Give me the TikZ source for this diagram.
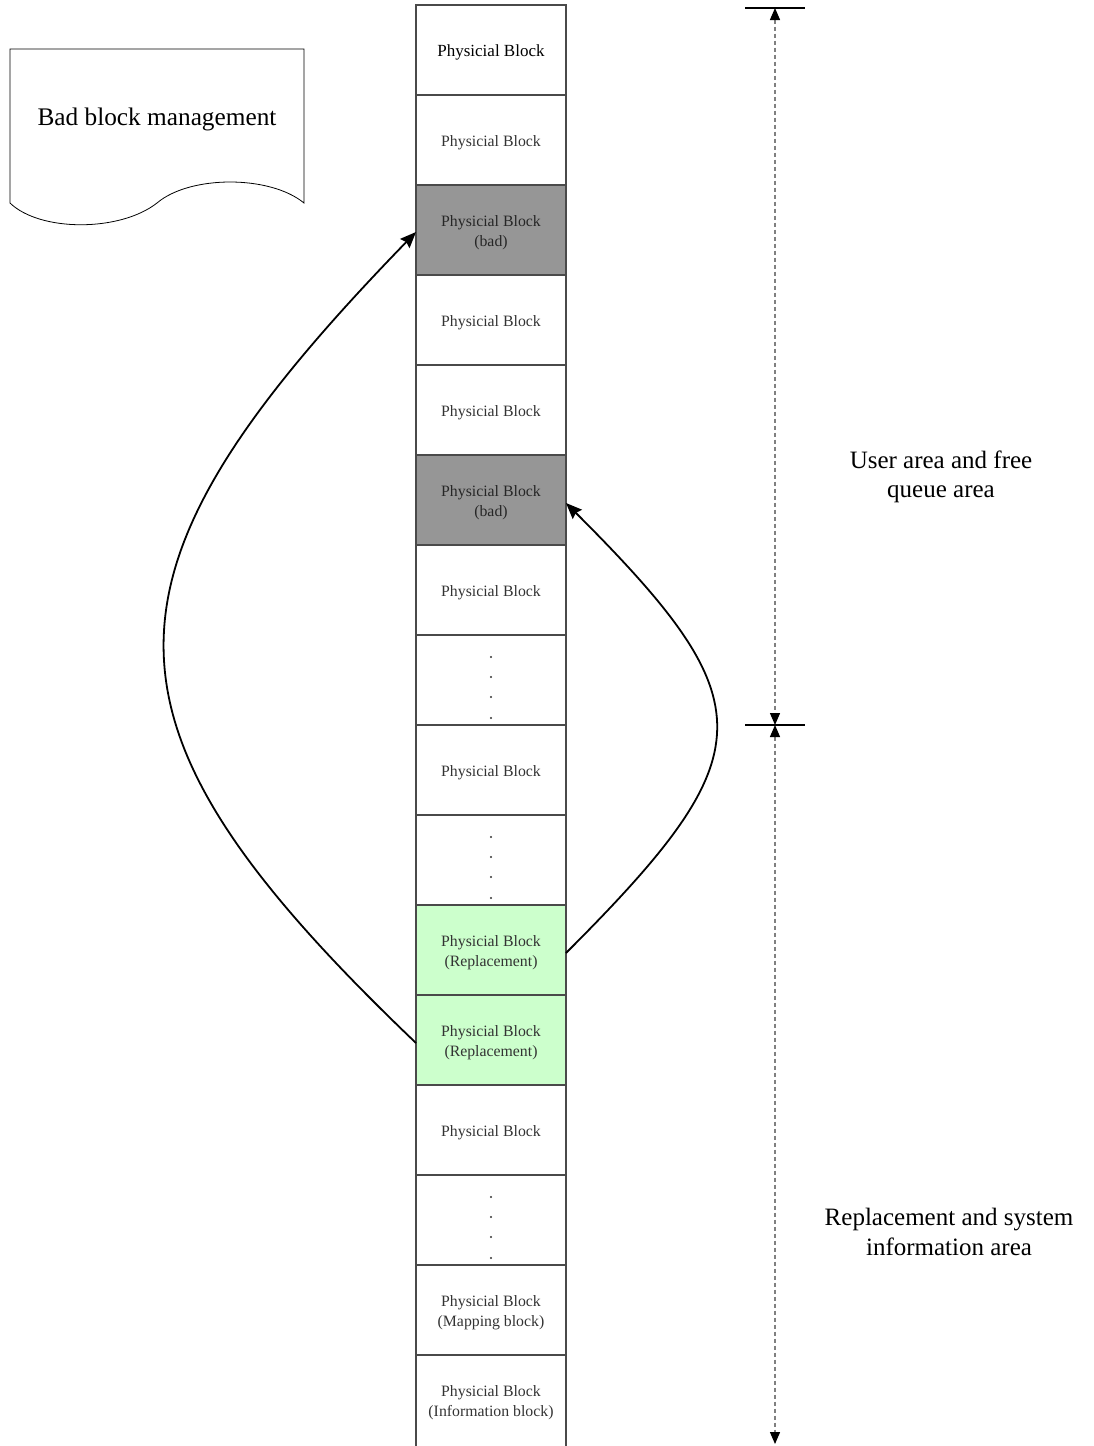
\documentclass[tikz,border=0pt]{standalone}
\usepackage{fontspec}
\setmainfont{Liberation Serif}
\usetikzlibrary{arrows.meta}
\definecolor{badgray}{HTML}{969696}
\definecolor{repgreen}{HTML}{CCFFCC}
\definecolor{edgegray}{HTML}{4A4A4A}
\definecolor{txtgray}{HTML}{333333}
\tikzset{
  blk/.style={draw=edgegray, line width=1.3pt, fill=white, minimum width=150pt, minimum height=90pt,
    inner sep=0pt, outer sep=0pt},
  badblk/.style={blk, fill=badgray},
  repblk/.style={blk, fill=repgreen},
  btxt/.style={align=center, text=txtgray, inner sep=0pt, font=\fontsize{15.8}{20}\selectfont},
  badtxt/.style={btxt, text=black!85},
  dotnode/.style={circle, fill=black!80, inner sep=0pt, minimum size=2.2pt},
  bigarrow/.style={line width=1.8pt, -{Stealth[length=16pt, width=13pt, inset=2pt]}},
  dim/.style={draw=gray, dash pattern=on 4pt off 3pt, line width=1.3pt,
    {Triangle[length=12pt, width=10pt, color=black]}-{Triangle[length=12pt, width=10pt, color=black]}},
  tick/.style={line width=1.3pt},
  area/.style={align=center, font=\fontsize{25}{29.5}\selectfont},
  docshape/.style={draw=black, line width=0.8pt, fill=white}
}
\begin{document}
\begin{tikzpicture}[x=1pt, y=-1pt]
\useasboundingbox (0,0) rectangle (1093,1446);

% document shape
\draw[docshape] (10,49) -- (304,49) -- (304,203)
  .. controls (270,175) and (190,175) .. (157,203)
  .. controls (120,232) and (40,232) .. (10,203) -- cycle;
\node[font=\fontsize{25.3}{30}\selectfont] (bbm) at (157,119) {Bad block management};

% column of blocks
\node[blk] (r1) at (491,50) {};
\node[blk] (r2) at (491,140) {};
\node[badblk] (r3) at (491,230) {};
\node[blk] (r4) at (491,320) {};
\node[blk] (r5) at (491,410) {};
\node[badblk] (r6) at (491,500) {};
\node[blk] (r7) at (491,590) {};
\node[blk] (r8) at (491,680) {};
\node[blk] (r9) at (491,770) {};
\node[blk] (r10) at (491,860) {};
\node[repblk] (r11) at (491,950) {};
\node[repblk] (r12) at (491,1040) {};
\node[blk] (r13) at (491,1130) {};
\node[blk] (r14) at (491,1220) {};
\node[blk] (r15) at (491,1310) {};
\node[blk, draw=none, fill=none] (r16) at (491,1400) {};
\draw[draw=edgegray, line width=1.3pt] (r16.north west) -- ++(0,95);
\draw[draw=edgegray, line width=1.3pt] (r16.north east) -- ++(0,95);

% block texts
\node[btxt, text=black, font=\fontsize{17}{20}\selectfont] (t1) at ([yshift=-2pt]r1.center) {Physicial Block};
\node[btxt] (t2) at ([yshift=-3pt]r2.center) {Physicial Block};
\node[badtxt] (t3) at ([yshift=-3pt]r3.center) {Physicial Block\\(bad)};
\node[btxt] (t4) at ([yshift=-3pt]r4.center) {Physicial Block};
\node[btxt] (t5) at ([yshift=-3pt]r5.center) {Physicial Block};
\node[badtxt] (t6) at ([yshift=-3pt]r6.center) {Physicial Block\\(bad)};
\node[btxt] (t7) at ([yshift=-3pt]r7.center) {Physicial Block};
\node[btxt] (t9) at ([yshift=-3pt]r9.center) {Physicial Block};
\node[btxt] (t11) at ([yshift=-3pt]r11.center) {Physicial Block\\(Replacement)};
\node[btxt] (t12) at ([yshift=-3pt]r12.center) {Physicial Block\\(Replacement)};
\node[btxt] (t13) at ([yshift=-3pt]r13.center) {Physicial Block};
\node[btxt] (t15) at ([yshift=-3pt]r15.center) {Physicial Block\\(Mapping block)};
\node[btxt] (t16) at ([yshift=-3pt]r16.center) {Physicial Block\\(Information block)};

% dots
\foreach \r in {r8,r10,r14} {
  \node[dotnode] (\r d1) at ([yshift=-22pt]\r.north) {};
  \node[dotnode] (\r d2) at ([yshift=-42pt]\r.north) {};
  \node[dotnode] (\r d3) at ([yshift=-62pt]\r.north) {};
  \node[dotnode] (\r d4) at ([yshift=-83pt]\r.north) {};
}

% replacement arrows
\draw[bigarrow] ([yshift=-3pt]r12.west) .. controls +(-335,-320) and +(-335,345) .. ([yshift=-2pt]r3.west);
\draw[bigarrow] ([yshift=-3pt]r11.east) .. controls +(200,-200) and +(200,200) .. ([yshift=-3pt]r6.east);

% dimension lines
\coordinate (dtop) at (775,8);
\coordinate (dmid) at (775,725);
\coordinate (dbot) at (775,1444);
\coordinate (ttl) at (745,8);
\coordinate (ttr) at (805,8);
\coordinate (tml) at (745,725);
\coordinate (tmr) at (805,725);
\draw[tick] (ttl) -- (ttr);
\draw[tick] (tml) -- (tmr);
\draw[dim] (dtop) -- (dmid);
\draw[dim] (dmid) -- (dbot);

\node[area] (user) at (941,477) {User area and free\\queue area};
\node[area] (repl) at (949,1232) {Replacement and system\\information area};
\end{tikzpicture}
\end{document}
